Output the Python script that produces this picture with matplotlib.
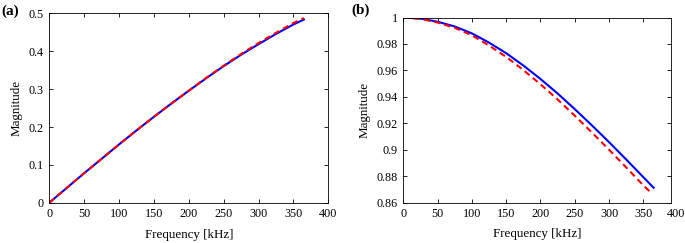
import numpy as np
import matplotlib
matplotlib.use("Agg")
import matplotlib.pyplot as plt
import matplotlib.transforms as mtransforms

plt.rcParams['font.family'] = ['Liberation Serif', 'DejaVu Serif']

# frequency points in kHz
freq = [0, 25, 50, 75, 100, 125, 150, 175, 200, 225, 250, 275, 300, 325, 350, 365]
freq_red_b = [0, 25, 50, 75, 100, 125, 150, 175, 200, 225, 250, 275, 300, 325, 350, 362]

# panel (a)
mag_a_blue = [0, 0.039, 0.078, 0.116, 0.154, 0.191, 0.227, 0.262, 0.296, 0.329, 0.361,
              0.391, 0.419, 0.446, 0.471, 0.484]
mag_a_red = [0, 0.039, 0.078, 0.116, 0.154, 0.191, 0.227, 0.262, 0.296, 0.330, 0.362,
             0.393, 0.422, 0.449, 0.475, 0.488]

# panel (b)
mag_b_blue = [1.0, 0.9992, 0.9968, 0.9932, 0.9880, 0.9810, 0.9730, 0.9637, 0.9535,
              0.9425, 0.9307, 0.9184, 0.9057, 0.8926, 0.8792, 0.8712]
mag_b_red = [1.0, 0.9990, 0.9962, 0.9922, 0.9865, 0.9788, 0.9702, 0.9603, 0.9495,
             0.9380, 0.9257, 0.9130, 0.9000, 0.8866, 0.8730, 0.8670]

fig = plt.figure(figsize=(6.85, 2.43), dpi=100)
W, H = 685, 243
ax1 = fig.add_axes([49.3 / W, 1 - 202.7 / H, 279 / W, 189.2 / H])
ax2 = fig.add_axes([403.3 / W, 1 - 202.5 / H, 267.7 / W, 185 / H])

ax1.plot(freq, mag_a_blue, color='blue', lw=1.5)
ax1.plot(freq, mag_a_red, color='red', lw=1.5, ls='--', dashes=(3, 2))
ax1.set_xlim(0, 400)
ax1.set_ylim(0, 0.5)
ax1.set_xticks(np.arange(0, 401, 50))
ax1.set_yticks([0, 0.1, 0.2, 0.3, 0.4, 0.5])
ax1.set_yticklabels(['0', '0.1', '0.2', '0.3', '0.4', '0.5'])

ax2.plot(freq, mag_b_blue, color='blue', lw=1.5)
ax2.plot(freq_red_b, mag_b_red, color='red', lw=1.5, ls='--', dashes=(3, 2))
# the box of panel (b) ends just short of 400 kHz in the original
ax2.set_xlim(0, 390.4)
ax2.set_ylim(0.86, 1.0)
ax2.set_xticks(np.arange(0, 351, 50))
ax2.set_yticks([0.86, 0.88, 0.9, 0.92, 0.94, 0.96, 0.98, 1.0])
ax2.set_yticklabels(['0.86', '0.88', '0.9', '0.92', '0.94', '0.96', '0.98', '1'])

for ax in (ax1, ax2):
    ax.set_xlabel('Frequency [kHz]', fontsize=9.4, labelpad=6)
    ax.set_ylabel('Magnitude', fontsize=9.4, labelpad=4)
    ax.tick_params(direction='in', top=True, right=True, length=3, width=0.6,
                   labelsize=8.7, pad=4)
    for s in ax.spines.values():
        s.set_linewidth(0.6)

# stray 400 label just past the right edge of panel (b)
trans = mtransforms.blended_transform_factory(ax2.transData, ax2.transAxes)
shift = mtransforms.ScaledTranslation(-2 / 100, -4 / 72, fig.dpi_scale_trans)
ax2.text(400, 0, '400', transform=trans + shift, ha='center', va='top',
         fontsize=8.7, clip_on=False)

fig.text(1 / W, 1 - 11 / H, '(a)', fontsize=11, fontweight='bold', va='center')
fig.text(351 / W, 1 - 10 / H, '(b)', fontsize=11, fontweight='bold', va='center')

fig.savefig('out.png', dpi=100)
